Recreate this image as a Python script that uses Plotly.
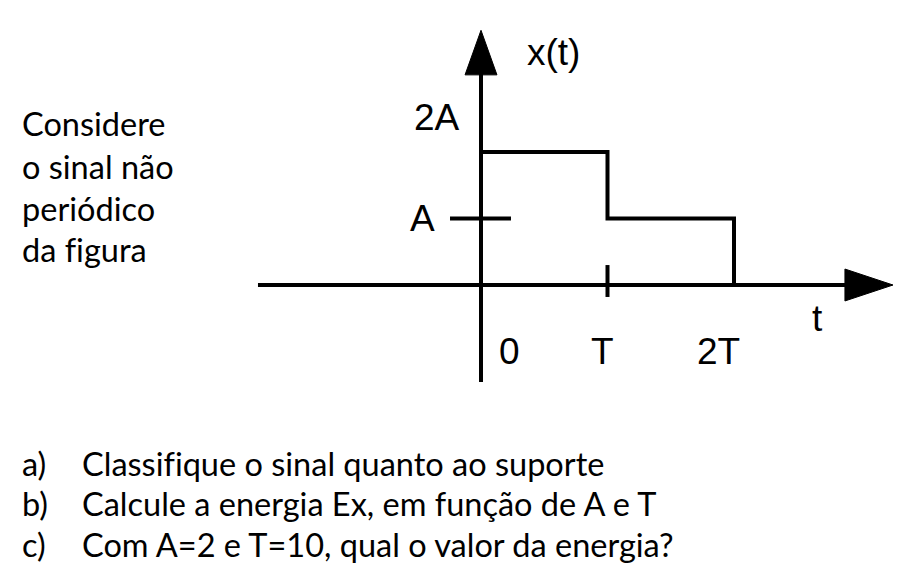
import plotly.graph_objects as go

# Signal x(t): piecewise constant, t in units of T, amplitude in units of A
t_signal = [0, 0, 1, 1, 2, 2]
x_signal = [0, 2, 2, 1, 1, 0]

t_tick_vals = [0, 1, 2]
t_tick_labels = ["0", "T", "2T"]
x_tick_vals = [1, 2]
x_tick_labels = ["A", "2A"]

left_text = ["Considere", "o sinal não", "periódico", "da figura"]
question_labels = ["a)", "b)", "c)"]
questions = ["Classifique o sinal quanto ao suporte",
             "Calcule a energia Ex, em função de A e T",
             "Com A=2 e T=10, qual o valor da energia?"]


def no_lig(s):
    # break the "fi" ligature so the glyphs stay separate
    return s.replace("fi", "f\u200ci")


W, H = 918, 576
OFF = 8  # page body margin
x0_px, y0_px = 481 - OFF, 285 - OFF
sx, sy = 126.5, 66.5
xr = [-x0_px / sx, (W - x0_px) / sx]
yr = [(y0_px - H) / sy, y0_px / sy]

BLK = "black"
LW = 4
fig = go.Figure()

# horizontal axis
fig.add_trace(go.Scatter(x=[-1.763, 2.9], y=[0, 0], mode="lines",
                         line=dict(color=BLK, width=LW), hoverinfo="skip"))
fig.add_trace(go.Scatter(x=[2.877, 3.257, 2.877, 2.877], y=[0.24, 0, -0.24, 0.24],
                         mode="lines", fill="toself", fillcolor=BLK,
                         line=dict(color=BLK, width=1), hoverinfo="skip"))
# vertical axis
fig.add_trace(go.Scatter(x=[0, 0], y=[-1.46, 3.2], mode="lines",
                         line=dict(color=BLK, width=LW), hoverinfo="skip"))
fig.add_trace(go.Scatter(x=[-0.126, 0, 0.126, -0.126], y=[3.16, 3.83, 3.16, 3.16],
                         mode="lines", fill="toself", fillcolor=BLK,
                         line=dict(color=BLK, width=1), hoverinfo="skip"))
# tick at A
fig.add_trace(go.Scatter(x=[-0.245, 0.237], y=[1, 1], mode="lines",
                         line=dict(color=BLK, width=LW), hoverinfo="skip"))
# tick at T
fig.add_trace(go.Scatter(x=[1, 1], y=[0.30, -0.18], mode="lines",
                         line=dict(color=BLK, width=LW), hoverinfo="skip"))
# signal
fig.add_trace(go.Scatter(x=t_signal, y=x_signal, mode="lines",
                         line=dict(color=BLK, width=LW, shape="linear"),
                         hoverinfo="skip"))

lab_font = dict(family="Liberation Sans, Arial", size=37, color=BLK)
ann = []
t_shifts = [28, -5, -16]
for v, lab, sh in zip(t_tick_vals, t_tick_labels, t_shifts):
    ann.append(dict(x=v, y=-1.0, text=lab, showarrow=False, xshift=sh,
                    font=lab_font, xanchor="center", yanchor="middle"))
ann.append(dict(x=-0.46, y=x_tick_vals[0], text=x_tick_labels[0], showarrow=False,
                font=lab_font, xanchor="center", yanchor="middle"))
ann.append(dict(x=-0.35, y=2.52, text=x_tick_labels[1], showarrow=False,
                font=lab_font, xanchor="center", yanchor="middle"))
ann.append(dict(x=0.57, y=3.5, text="x(t)", showarrow=False,
                font=lab_font, xanchor="center", yanchor="middle"))
ann.append(dict(x=2.66, y=-0.5, text="t", showarrow=False,
                font=lab_font, xanchor="center", yanchor="middle"))

txt_font = dict(family="Lato, Open Sans, sans-serif", size=32.5, color=BLK)
for i, s in enumerate(left_text):
    ann.append(dict(x=(20 - OFF) / W, y=1 - (124 - OFF + 42 * i) / H,
                    xref="paper", yref="paper",
                    text=no_lig(s), showarrow=False, font=txt_font,
                    xanchor="left", yanchor="middle"))
for i, (l, q) in enumerate(zip(question_labels, questions)):
    yy = 1 - (463 - OFF + 40.5 * i) / H
    ann.append(dict(x=(20 - OFF) / W, y=yy, xref="paper", yref="paper", text=l,
                    showarrow=False, font=txt_font, xanchor="left", yanchor="middle"))
    ann.append(dict(x=(80 - OFF) / W, y=yy, xref="paper", yref="paper", text=no_lig(q),
                    showarrow=False, font=txt_font, xanchor="left", yanchor="middle"))

fig.update_layout(
    width=W, height=H, margin=dict(l=0, r=0, t=0, b=0),
    paper_bgcolor="white", plot_bgcolor="white", showlegend=False,
    xaxis=dict(range=xr, visible=False, fixedrange=True),
    yaxis=dict(range=yr, visible=False, fixedrange=True),
    annotations=ann,
)
fig.write_html("out.html")
